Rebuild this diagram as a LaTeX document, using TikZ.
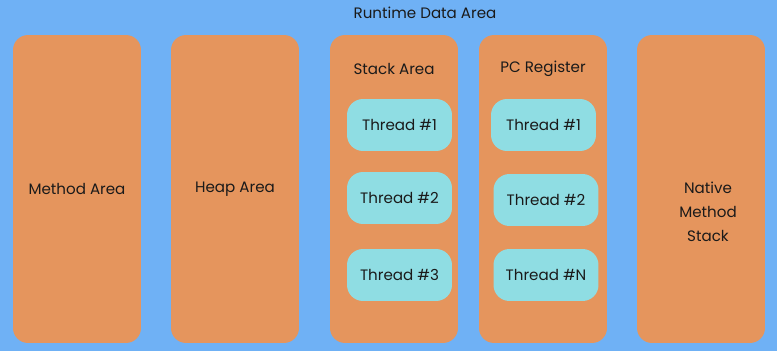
\documentclass[tikz,border=0pt]{standalone}
\usepackage{fontspec}
\setmainfont{Poppins}
\usetikzlibrary{positioning}
\definecolor{areablue}{HTML}{6FB1F5}
\definecolor{areaorange}{HTML}{E5955D}
\definecolor{threadcyan}{HTML}{8FDDE3}
\definecolor{inkgray}{HTML}{1A1A1A}

\begin{document}
\begin{tikzpicture}[
  x=0.02cm, y=-0.02cm,
  txt/.style={text=inkgray, font=\fontsize{8.6}{13.6}\selectfont, align=center},
  area/.style={txt, fill=areaorange, rounded corners=0.3cm, minimum width=2.56cm, minimum height=6.16cm, inner sep=0pt},
  thread/.style={txt, fill=threadcyan, rounded corners=0.32cm, minimum width=2.1cm, minimum height=1.04cm, inner sep=0pt}
]
\fill[areablue] (0,0) rectangle (777,351);
\node[txt] (title) at (425,13) {Runtime Data Area};
% five areas
\node[area] (method) at (77,189) {Method Area};
\node[area] (heap) at (235,189) {Heap Area};
\node[area] (stack) at (394,189) {};
\node[area] (pc) at (543,189) {};
\node[area] (native) at (701,189) {};
\node[txt] (nativelbl) at (708,212) {Native\\Method\\Stack};
% stack area threads
\node[txt] (stacklbl) at (394,69) {Stack Area};
\node[thread] (st1) at (399.5,125) {Thread \#1};
\node[thread] (st2) at (399.5,198) {Thread \#2};
\node[thread] (st3) at (399.5,275) {Thread \#3};
% pc register threads
\node[txt] (pclbl) at (543,69) {PC Register};
\node[thread] (pc1) at (543.5,125) {Thread \#1};
\node[thread] (pc2) at (546,200) {Thread \#2};
\node[thread] (pcn) at (546,275) {Thread \#N};
\end{tikzpicture}
\end{document}
